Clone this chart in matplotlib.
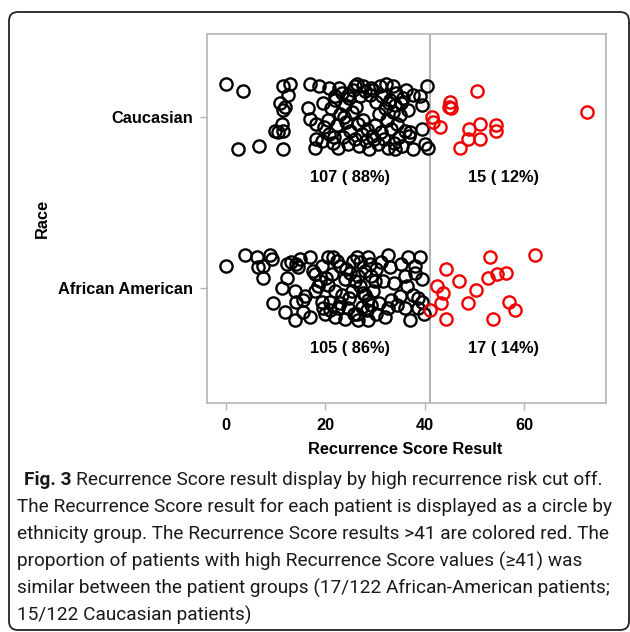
import numpy as np
import matplotlib
matplotlib.use('Agg')
import matplotlib.pyplot as plt
from matplotlib.patches import FancyBboxPatch

# Data (score, vertical jitter in category units)
races = ['African American', 'Caucasian']
cutoff = 41
x_ticks = [0, 20, 40, 60]

cau_scores = [0.1, 3.5, 2.5, 6.7, 11.4, 11.5, 13.0, 12.5, 10.9, 11.9, 11.5, 11.2, 9.9, 10.5, 11.5,
              16.9, 18.8, 20.8, 21.9, 16.6, 16.9, 18.2, 18.2, 17.9, 19.3,
              26.3, 27.6, 29.3, 31.0, 32.3, 33.7, 35.3, 34.0, 37.7, 39.0, 40.4, 39.4, 37.0, 39.4,
              37.7, 40.0, 40.7,
              20.5, 20.8, 21.2, 21.5, 22.0, 22.3, 22.6, 23.0, 23.3, 23.6, 24.0, 24.2, 24.5, 24.8,
              25.0, 25.3, 25.6, 25.9, 26.2, 26.5, 26.8, 27.0, 27.3, 27.6, 27.9, 28.2, 28.5, 28.8,
              29.1, 29.4, 29.7, 30.0, 30.3, 30.6, 30.9, 31.2, 31.5, 31.8, 32.1, 32.4, 32.7, 33.0,
              33.3, 33.6, 33.9, 34.2, 34.5, 34.8, 35.1, 35.4, 35.7, 36.0, 36.3, 36.6, 19.5, 19.8,
              22.8, 26.0, 23.8, 29.9, 24.6, 32.9, 21.8, 34.0, 36.8,
              41.4, 41.7, 43.1, 45.1, 44.9, 45.4, 50.6, 51.1, 49.0, 48.8, 51.1, 47.2, 54.3, 54.3, 72.6]
cau_jitter = [0.19, 0.15, -0.19, -0.17, -0.19, 0.18, 0.19, 0.13, 0.08, 0.06, 0.04, -0.04, -0.08, -0.09, -0.08,
              0.19, 0.18, 0.17, 0.12, 0.05, -0.01, -0.04, -0.13, -0.18, -0.14,
              0.19, 0.18, 0.17, 0.18, 0.19, 0.18, 0.08, 0.07, 0.13, 0.12, 0.18, 0.07, -0.09, -0.07,
              -0.19, -0.16, -0.18,
              -0.02, -0.10, 0.05, -0.15, 0.10, -0.05, -0.18, 0.02, 0.14, -0.12, 0.07, -0.03, -0.16, 0.11,
              -0.08, 0.03, 0.16, -0.13, 0.06, -0.04, -0.17, 0.12, -0.10, -0.02, 0.15, -0.14, -0.07, -0.19,
              0.13, -0.11, 0.16, -0.05, 0.09, -0.16, 0.02, -0.09, 0.12, -0.13, 0.05, -0.02, -0.18, 0.10,
              -0.07, 0.03, -0.15, 0.14, -0.04, -0.12, 0.01, -0.17, 0.11, -0.08, 0.16, 0.04, 0.08, -0.06,
              0.17, 0.18, 0.00, -0.13, 0.13, 0.08, -0.12, -0.19, -0.11,
              0.00, -0.03, -0.06, 0.09, 0.06, 0.05, 0.15, -0.04, -0.07, -0.13, -0.13, -0.18, -0.05, -0.08, 0.03]

aa_scores = [0.1, 3.8, 6.2, 8.9, 9.2, 6.5, 7.5, 7.5, 12.2, 11.2, 12.2, 13.2, 14.2, 14.9, 16.9, 14.5,
             9.5, 11.9, 13.9, 14.2, 15.9, 15.6, 13.9, 16.9, 15.6, 17.9, 19.3, 20.6, 18.9, 18.6, 19.3,
             19.6, 19.9,
             21.6, 22.9, 21.3, 20.6, 21.9, 20.9, 22.6, 21.9, 23.9, 24.9, 25.3, 26.0, 26.6, 26.3, 27.0,
             28.6, 29.0, 30.3, 30.0, 29.6, 28.6, 27.3, 26.3, 26.6, 28.6, 30.3, 32.7, 33.0, 35.3, 36.7,
             38.0, 39.0, 36.0, 38.0, 39.4, 35.0, 36.0, 37.0, 37.7, 38.7, 39.4, 38.7, 33.3, 32.7, 24.6,
             23.9, 31.7, 28.0, 29.3, 23.3,
             17.5, 18.0, 20.2, 21.0, 22.3, 23.0, 24.2, 24.8, 25.5, 25.8, 26.9, 27.6, 27.9, 28.3, 29.2,
             30.8, 31.3, 32.0, 33.8, 34.5, 36.4, 39.8,
             41.0, 42.4, 43.6, 43.2, 44.3, 44.3, 46.9, 48.8, 50.3, 52.8, 54.5, 56.3, 53.1, 53.7, 57.0,
             58.1, 62.2]
aa_jitter = [0.13, 0.19, 0.18, 0.19, 0.17, 0.12, 0.13, 0.06, 0.06, 0.00, 0.14, 0.15, 0.14, 0.17, 0.18, 0.12,
             -0.09, -0.14, -0.02, -0.08, -0.05, -0.07, -0.19, -0.17, -0.14, 0.08, 0.13, 0.18, 0.04, 0.01, -0.08,
             -0.12, -0.15,
             0.18, 0.13, 0.08, 0.02, -0.02, -0.08, -0.12, -0.17, 0.05, 0.09, -0.02, 0.04, 0.07, 0.18, 0.15,
             0.18, 0.14, 0.11, 0.04, -0.02, -0.07, -0.11, -0.15, -0.19, -0.19, -0.15, 0.19, 0.12, 0.14, 0.18,
             0.13, 0.18, 0.07, 0.09, 0.05, -0.05, -0.12, -0.19, -0.04, -0.06, -0.08, -0.12, -0.07, -0.12, -0.12,
             -0.18, 0.04, -0.04, -0.10, -0.04,
             0.10, -0.02, 0.06, -0.13, 0.16, -0.09, 0.11, -0.06, 0.16, -0.15, 0.01, -0.03, 0.10, -0.13, 0.07,
             -0.09, 0.15, -0.17, 0.03, -0.10, 0.01, -0.15,
             -0.13, 0.01, -0.03, -0.09, 0.11, -0.18, 0.04, -0.09, -0.01, 0.06, 0.08, 0.09, 0.18, -0.18, -0.08,
             -0.13, 0.19]

aa_counts = ['105 ( 86%)', '17 ( 14%)']
cau_counts = ['107 ( 88%)', '15 ( 12%)']

caption_lines = ['Recurrence Score result display by high recurrence risk cut off.',
                 'The Recurrence Score result for each patient is displayed as a circle by',
                 'ethnicity group. The Recurrence Score results >41 are colored red. The',
                 'proportion of patients with high Recurrence Score values (\u226541) was',
                 'similar between the patient groups (17/122 African-American patients;',
                 '15/122 Caucasian patients)']

W, H = 630, 632
fig = plt.figure(figsize=(W / 100, H / 100), dpi=100)
ax = fig.add_axes([207 / W, 1 - 403 / H, 399 / W, 369 / H])

lab_font = dict(family='Liberation Sans', weight='bold', size=11.8)
gray = '#b4b4b4'

groups = [(aa_scores, aa_jitter, aa_counts), (cau_scores, cau_jitter, cau_counts)]
for i, (scores, jit, counts) in enumerate(groups):
    s = np.array(scores)
    y = i + np.array(jit)
    hi = s >= cutoff
    ax.plot(s[~hi], y[~hi], 'o', mfc='none', mec='black', ms=8.8, mew=1.7, ls='none')
    ax.plot(s[hi], y[hi], 'o', mfc='none', mec='#f00000', ms=8.8, mew=1.7, ls='none')
    ax.text(25, i - 0.357, counts[0], ha='center', va='center', **lab_font)
    ax.text(55.8, i - 0.357, counts[1], ha='center', va='center', **lab_font)

ax.axvline(cutoff, color='#a8a8a8', lw=1.2, zorder=0)

ax.set_xlim(-3.8, 76.5)
ax.set_ylim(-0.673, 1.485)
ax.set_xticks(x_ticks)
ax.set_yticks([0, 1])
ax.set_yticklabels(races)
for lab in ax.get_xticklabels() + ax.get_yticklabels():
    lab.set_fontproperties(matplotlib.font_manager.FontProperties(**lab_font))
ax.tick_params(axis='x', length=5, width=1, color=gray, pad=6)
ax.tick_params(axis='y', length=5, width=1, color=gray, pad=5)
for sp in ax.spines.values():
    sp.set_color(gray)
    sp.set_linewidth(1.2)

fig.text(42 / W, 1 - 218 / H, 'Race', rotation=90, ha='center', va='center', **lab_font)
fig.text(405 / W, 1 - 449 / H, 'Recurrence Score Result', ha='center', va='center', **lab_font)

# rounded frame around figure + caption
frame = FancyBboxPatch((9 / W, 2 / H), 620 / W, 618 / H, transform=fig.transFigure,
                       boxstyle='round,pad=0,rounding_size=0.014', fc='none', ec='#222222', lw=1.3)
fig.patches.append(frame)

# caption, sized to fill the frame width
cap_family = ['Roboto', 'DejaVu Sans']
cap_color = '#1a1a1a'
cap_size = 11.5
r = fig.canvas.get_renderer()
t = fig.text(17 / W, 0.5, caption_lines[1], family=cap_family, size=cap_size)
w = t.get_window_extent(r).width
cap_size = cap_size * 598 / w
t.remove()

baselines = [485, 512, 539, 567, 594, 621]
fig_t = fig.text(24 / W, 1 - baselines[0] / H, 'Fig. 3', family=cap_family, size=cap_size,
                 weight='bold', va='baseline', color=cap_color)
fw = fig_t.get_window_extent(r).width
fig.text((24 + fw + 5) / W, 1 - baselines[0] / H, caption_lines[0], family=cap_family,
         size=cap_size, va='baseline', color=cap_color)
for line, b in zip(caption_lines[1:], baselines[1:]):
    fig.text(17 / W, 1 - b / H, line, family=cap_family, size=cap_size, va='baseline',
             color=cap_color)

fig.savefig('out.png', dpi=100)
